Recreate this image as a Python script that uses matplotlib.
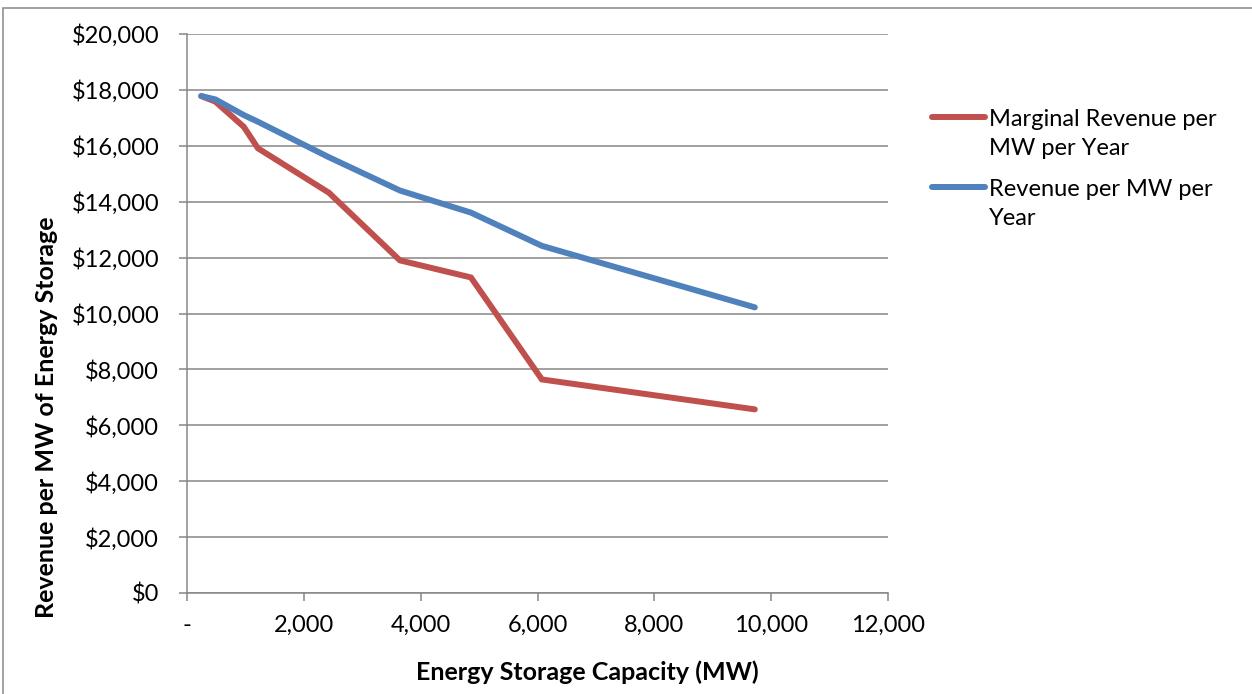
import matplotlib.pyplot as plt
from matplotlib.lines import Line2D
from matplotlib.patches import Rectangle
from matplotlib.ticker import FuncFormatter

plt.rcParams['font.family'] = ['Lato', 'DejaVu Sans']

# Data
capacity_mw = [243, 486, 972, 1215, 2430, 3645, 4860, 6075, 9720]
marginal_revenue = [17780, 17580, 16680, 15910, 14320, 11900, 11290, 7640, 6570]
revenue = [17780, 17660, 17100, 16860, 15590, 14400, 13610, 12420, 10220]
series_names = ['Marginal Revenue per\nMW per Year', 'Revenue per MW per\nYear']
series_colors = ['#C0504D', '#4F81BD']

W, H = 1252, 694
fig = plt.figure(figsize=(W / 100, H / 100), dpi=100)
ax = fig.add_axes([187 / W, 1 - 593 / H, (888 - 187) / W, (593 - 34) / H])

for ys, name, color in zip([marginal_revenue, revenue], series_names, series_colors):
    ax.plot(capacity_mw, ys, color=color, linewidth=4.3, solid_capstyle='round',
            solid_joinstyle='miter', label=name)

ax.set_xlim(0, 12000)
ax.set_ylim(0, 20000)
ax.set_xticks(range(0, 12001, 2000))
ax.set_yticks(range(0, 20001, 2000))
ax.xaxis.set_major_formatter(FuncFormatter(lambda v, p: '-' if v == 0 else f'{v:,.0f}'))
ax.yaxis.set_major_formatter(FuncFormatter(lambda v, p: f'${v:,.0f}'))

grid_color = '#868686'
ax.grid(axis='y', color=grid_color, linewidth=1.1)
ax.set_axisbelow(True)
for s in ['top', 'right']:
    ax.spines[s].set_visible(False)
for s in ['left', 'bottom']:
    ax.spines[s].set_color(grid_color)
    ax.spines[s].set_linewidth(1.1)
ax.tick_params(axis='both', colors=grid_color, labelcolor='black', labelsize=17,
               length=6, width=1.1)
ax.tick_params(axis='y', pad=14)
ax.tick_params(axis='x', pad=10)

# axis titles
fig.text(47 / W, 1 - 417 / H, 'Revenue per MW of Energy Storage', rotation=90,
         ha='center', va='center', fontsize=18, fontweight='bold')
fig.text(587 / W, 1 - 672 / H, 'Energy Storage Capacity (MW)',
         ha='center', va='center', fontsize=18, fontweight='bold')

# legend
for name, color, yc in zip(series_names, series_colors, [117, 187]):
    fig.add_artist(Line2D([932 / W, 985 / W], [1 - yc / H] * 2, color=color,
                          linewidth=4.3, solid_capstyle='round'))
    fig.text(989 / W, 1 - (yc + 17) / H, name, ha='left', va='center',
             fontsize=17, linespacing=1.5)

# outer chart border
fig.add_artist(Rectangle((3 / W, -0.1), 1.2, 1 - 8 / H + 0.1, transform=fig.transFigure,
                         fill=False, edgecolor=grid_color, linewidth=1.1))

fig.savefig('out.png', dpi=100)
